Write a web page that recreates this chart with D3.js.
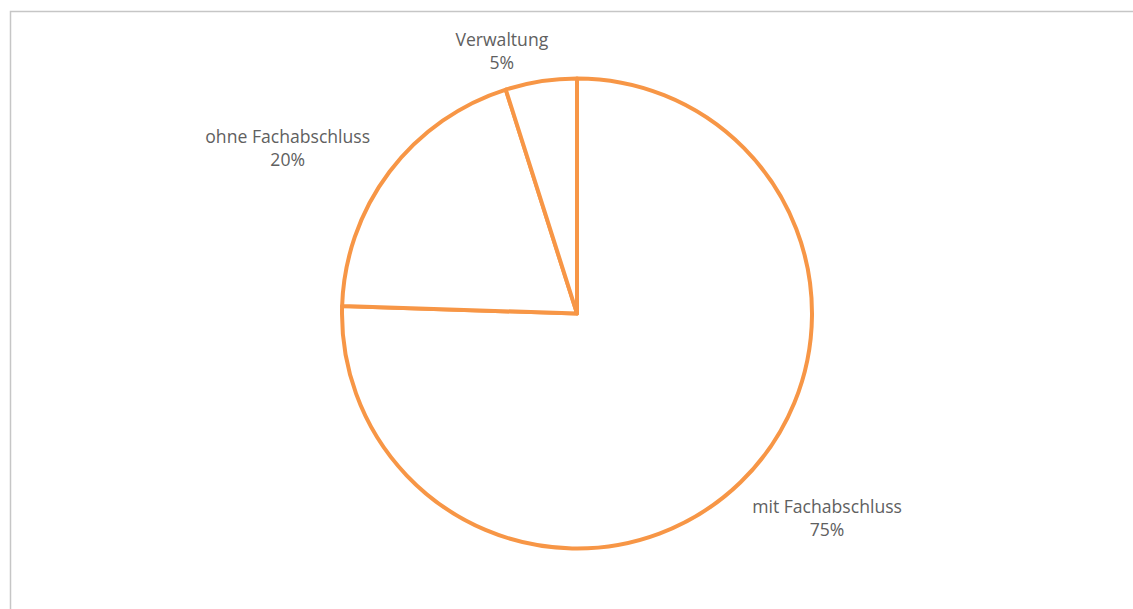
<!DOCTYPE html>
<html>
<head>
<meta charset="utf-8">
<script src="https://cdn.jsdelivr.net/npm/d3@7"></script>
<style>
  body { margin: 0; background: #fff; }
  svg { display: block; }
</style>
</head>
<body>
<div id="chart"></div>
<script>
const categories = ['mit Fachabschluss', 'ohne Fachabschluss', 'Verwaltung'];
const shares = [75.5, 19.6, 4.9];
const shareLabels = ['75%', '20%', '5%'];

const W = 1133, H = 609;
const center = { x: 577, y: 313.5 };
const radius = 235;

const svg = d3.select('#chart').append('svg')
    .attr('width', W)
    .attr('height', H);

// chart frame (runs past the right and bottom edges)
svg.append('rect')
    .attr('x', 10.5).attr('y', 11.5)
    .attr('width', W + 20).attr('height', H + 20)
    .attr('fill', 'none')
    .attr('stroke', '#c6c6c6')
    .attr('stroke-width', 1.5);

const data = categories.map((c, i) => ({ name: c, value: shares[i], label: shareLabels[i] }));

const pie = d3.pie().sort(null).value(d => d.value);
const arc = d3.arc().innerRadius(0).outerRadius(radius);

const g = svg.append('g')
    .attr('transform', `translate(${center.x},${center.y})`);

const arcs = pie(data);

g.selectAll('path.slice')
    .data(arcs)
    .join('path')
    .attr('class', 'slice')
    .attr('d', arc)
    .attr('fill', '#fff')
    .attr('stroke', '#f79646')
    .attr('stroke-width', 4)
    .attr('stroke-linejoin', 'round');

// labels outside the pie, pushed out sideways by half the text width
const lineH = 23, gap = 28;
const labels = g.selectAll('g.label')
    .data(arcs)
    .join('g')
    .attr('class', 'label');

labels.each(function (d) {
    const el = d3.select(this);
    const t = el.append('text')
        .attr('text-anchor', 'middle')
        .attr('font-family', 'Open Sans, sans-serif')
        .attr('font-size', 17.6)
        .attr('fill', '#606060');
    t.append('tspan').attr('x', 0).attr('y', -lineH / 2 + 9).text(d.data.name);
    t.append('tspan').attr('x', 0).attr('y', lineH / 2 + 9).text(d.data.label);

    const hw = t.node().getBBox().width / 2;
    const a = (d.startAngle + d.endAngle) / 2 - 7 * Math.PI / 180;
    const s = Math.sin(a), c = Math.cos(a);
    const dist = radius + gap + Math.abs(s) * hw;
    el.attr('transform', `translate(${s * dist},${-c * dist})`);
});
</script>
</body>
</html>
